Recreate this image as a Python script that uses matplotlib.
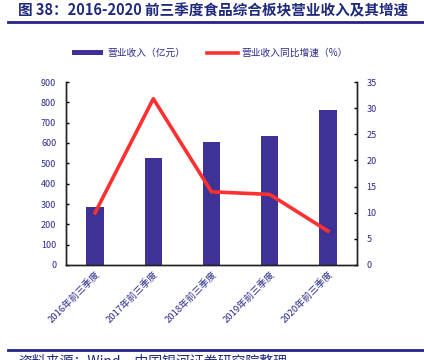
import matplotlib
matplotlib.use("Agg")
import matplotlib.pyplot as plt
from matplotlib.lines import Line2D
from matplotlib.patches import Patch

plt.rcParams['font.family'] = ['Noto Sans CJK SC', 'DejaVu Sans']

# data
categories = ["2016年前三季度", "2017年前三季度", "2018年前三季度", "2019年前三季度", "2020年前三季度"]
revenue = [283, 527, 605, 632, 762]
growth = [10.0, 31.8, 14.0, 13.5, 6.5]

navy = "#2B2B8C"
bar_c = "#3F3296"
red = "#FF3030"

fig = plt.figure(figsize=(4.24, 3.6), dpi=100)
ax = fig.add_axes([66 / 424, 1 - 265 / 360, 291 / 424, 183 / 360])
ax2 = ax.twinx()

x = range(len(categories))
ax.bar(x, revenue, width=0.3, color=bar_c, zorder=2)
ax2.plot(x, growth, color=red, lw=2.6, zorder=3)

ax.set_xlim(-0.5, 4.5)
ax.set_ylim(0, 900)
ax.set_yticks(range(0, 901, 100))
ax2.set_ylim(0, 35)
ax2.set_yticks(range(0, 36, 5))
ax.set_xticks(list(x))
ax.set_xticklabels(categories, rotation=45, ha='right', va='top', rotation_mode='anchor',
                   fontsize=6.8, color=navy)

for a in (ax, ax2):
    a.spines['top'].set_visible(False)
    for s in ('left', 'right', 'bottom'):
        a.spines[s].set_color('#222222')
        a.spines[s].set_linewidth(1.0)
    a.tick_params(axis='y', direction='in', length=2.5, width=1, labelsize=6.5, labelcolor=navy, pad=7)
ax.tick_params(axis='x', length=0, pad=3)
ax.set_zorder(ax2.get_zorder() - 1)
ax2.patch.set_visible(False)
ax.patch.set_visible(False)

# title and rules
fig.text(18 / 424, 1 - 10 / 360, "图 38：2016-2020 前三季度食品综合板块营业收入及其增速",
         fontsize=10.5, fontweight='bold', color="#1F2A7A", va='center', ha='left')
fig.add_artist(Line2D([8 / 424, 1], [1 - 22 / 360] * 2, color="#24248A", lw=2))
fig.add_artist(Line2D([8 / 424, 1], [1 - 350 / 360] * 2, color="#24248A", lw=2))
fig.text(18 / 424, 1 - 361 / 360, "资料来源：Wind，中国银河证券研究院整理", fontsize=10,
         style='italic', color="#1F2A7A", va='center', ha='left')

handles = [Patch(facecolor=bar_c, edgecolor='none'),
           Line2D([0], [0], color=red, lw=2.6)]
labels = ["营业收入（亿元）", "营业收入同比增速（%）"]
fig.legend(handles, labels, loc='center', bbox_to_anchor=(210 / 424, 1 - 53 / 360), ncol=2,
           frameon=False, fontsize=7, labelcolor=navy, handlelength=3.2, handleheight=0.5,
           columnspacing=2.2, handletextpad=0.4)

fig.savefig("out.png", dpi=100)
